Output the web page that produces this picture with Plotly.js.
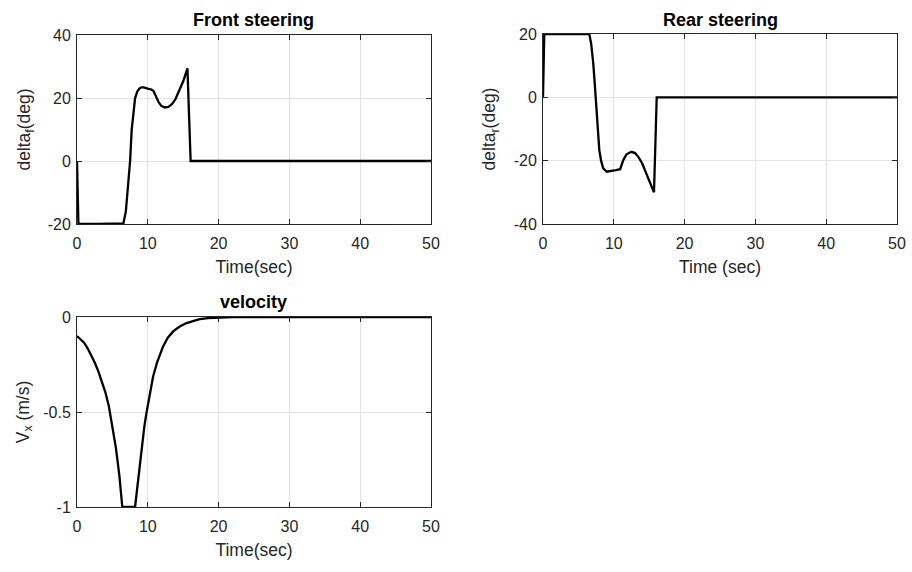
<!DOCTYPE html>
<html>
<head>
<meta charset="utf-8">
<script src="https://cdn.plot.ly/plotly-3.0.1.min.js"></script>
<style>
html,body{margin:0;padding:0;background:#fff;}
#chart{width:912px;height:572px;}
</style>
</head>
<body>
<div id="chart"></div>
<script>
// ---- Data ----
const timeFront = [0, 0.2, 3, 6.55, 6.9, 7.25, 7.5, 7.72, 7.95, 8.2, 8.5, 8.8, 9.1, 9.4, 10, 10.5, 10.8, 11.1, 11.5, 11.9, 12.4, 12.9, 13.4, 13.9, 14.5, 15.0, 15.6, 16.05, 50];
const deltaFront = [0, -20, -20, -19.8, -16, -8, 0, 9.8, 16, 19.9, 22, 23, 23.4, 23.4, 23, 22.7, 22.2, 20.5, 18.8, 17.5, 17, 17.2, 18, 19.6, 22.5, 25.3, 29.4, 0, 0];

const timeRear = [0, 0.18, 3, 6.54, 6.8, 7.1, 7.35, 7.58, 7.8, 7.95, 8.2, 8.5, 9.0, 9.5, 10.3, 10.9, 11.1, 11.34, 11.8, 12.5, 13.0, 13.46, 14.0, 14.6, 15.2, 15.68, 16.06, 50];
const deltaRear = [0, 20, 20, 20, 17, 10.7, 3, -5, -12, -16.6, -20, -22.4, -23.5, -23.4, -23, -22.7, -21.5, -19.8, -18, -17.2, -17.6, -18.8, -20.8, -24, -27, -30, 0, 0];

const timeVel = [0, 0.5, 1, 1.5, 2, 2.5, 3, 3.5, 4, 4.5, 5, 5.5, 6, 6.4, 8.2, 8.5, 8.86, 9.2, 9.5, 9.8, 10.2, 10.75, 11.3, 12.16, 12.8, 13.58, 14.5, 15.46, 16.5, 17.35, 18.5, 20, 22, 25, 50];
const velocity = [-0.1, -0.115, -0.135, -0.165, -0.2, -0.24, -0.285, -0.335, -0.395, -0.47, -0.57, -0.69, -0.84, -1, -1, -0.9, -0.79, -0.67, -0.58, -0.507, -0.42, -0.313, -0.24, -0.155, -0.11, -0.076, -0.05, -0.032, -0.02, -0.011, -0.006, -0.003, -0.001, 0, 0];

const xTicks = [0, 10, 20, 30, 40, 50];
const xTickText = ['0', '10', '20', '30', '40', '50'];
const frontTicks = [-20, 0, 20, 40];
const frontTickText = ['-20', '0', '20', '40'];
const rearTicks = [-40, -20, 0, 20];
const rearTickText = ['-40', '-20', '0', '20'];
const velTicks = [-1, -0.5, 0];
const velTickText = ['-1', '-0.5', '0'];

const titles = ['Front steering', 'Rear steering', 'velocity'];
const xLabels = ['Time(sec)', 'Time (sec)', 'Time(sec)'];
const yLabels = ['delta<sub>f</sub>(deg)', 'delta<sub>r</sub>(deg)', 'V<sub>x</sub> (m/s)'];

// ---- Layout helpers ----
const W = 912, H = 572;
const FONT = 'Liberation Sans, Arial, sans-serif';
const lineStyle = {color: '#000', width: 2.3};

function xa(l, r, label, anchor) {
  return {
    domain: [l / W, r / W], range: [0, 50], anchor: anchor,
    tickvals: xTicks, ticktext: xTickText, ticks: 'inside', ticklen: 5, tickcolor: '#262626',
    ticklabelstandoff: 5,
    showline: true, mirror: 'ticks', linecolor: '#262626', linewidth: 1,
    showgrid: true, gridcolor: '#e3e3e3', gridwidth: 1, zeroline: false,
    tickfont: {family: FONT, size: 16, color: '#262626'},
    title: {text: label, font: {family: FONT, size: 17.5, color: '#262626'}, standoff: 9}
  };
}
function ya(t, b, range, tv, tt, label, anchor, standoff) {
  return {
    domain: [1 - b / H, 1 - t / H], range: range, anchor: anchor,
    tickvals: tv, ticktext: tt, ticks: 'inside', ticklen: 5, tickcolor: '#262626',
    ticklabelstandoff: 2,
    showline: true, mirror: 'ticks', linecolor: '#262626', linewidth: 1,
    showgrid: true, gridcolor: '#e3e3e3', gridwidth: 1, zeroline: false,
    tickfont: {family: FONT, size: 16, color: '#262626'},
    title: {text: label, font: {family: FONT, size: 17.5, color: '#262626'}, standoff: standoff}
  };
}

const data = [
  {x: timeFront, y: deltaFront, xaxis: 'x', yaxis: 'y', mode: 'lines', line: lineStyle, hoverinfo: 'skip'},
  {x: timeRear, y: deltaRear, xaxis: 'x2', yaxis: 'y2', mode: 'lines', line: lineStyle, hoverinfo: 'skip'},
  {x: timeVel, y: velocity, xaxis: 'x3', yaxis: 'y3', mode: 'lines', line: lineStyle, hoverinfo: 'skip'}
];

const titleFont = {family: FONT, size: 18, color: '#000', weight: 'bold'};
const layout = {
  width: W, height: H,
  margin: {l: 0, r: 0, t: 0, b: 0},
  paper_bgcolor: '#fff', plot_bgcolor: '#fff',
  showlegend: false,
  xaxis: xa(77, 431, xLabels[0], 'y'),
  yaxis: ya(35, 224, [-20, 40], frontTicks, frontTickText, yLabels[0], 'x', 12),
  xaxis2: xa(543, 897, xLabels[1], 'y2'),
  yaxis2: ya(34, 224, [-40, 20], rearTicks, rearTickText, yLabels[1], 'x2', 13),
  xaxis3: xa(77, 431, xLabels[2], 'y3'),
  yaxis3: ya(317, 507, [-1, 0], velTicks, velTickText, yLabels[2], 'x3', 9),
  annotations: [
    {text: '<b>' + titles[0] + '</b>', xref: 'paper', yref: 'paper', x: 254 / W, y: 1 - 20 / H, xanchor: 'center', yanchor: 'middle', showarrow: false, font: titleFont},
    {text: '<b>' + titles[1] + '</b>', xref: 'paper', yref: 'paper', x: 720 / W, y: 1 - 20 / H, xanchor: 'center', yanchor: 'middle', showarrow: false, font: titleFont},
    {text: '<b>' + titles[2] + '</b>', xref: 'paper', yref: 'paper', x: 254 / W, y: 1 - 302 / H, xanchor: 'center', yanchor: 'middle', showarrow: false, font: titleFont}
  ]
};

Plotly.newPlot('chart', data, layout, {staticPlot: true, displayModeBar: false});
</script>
</body>
</html>
